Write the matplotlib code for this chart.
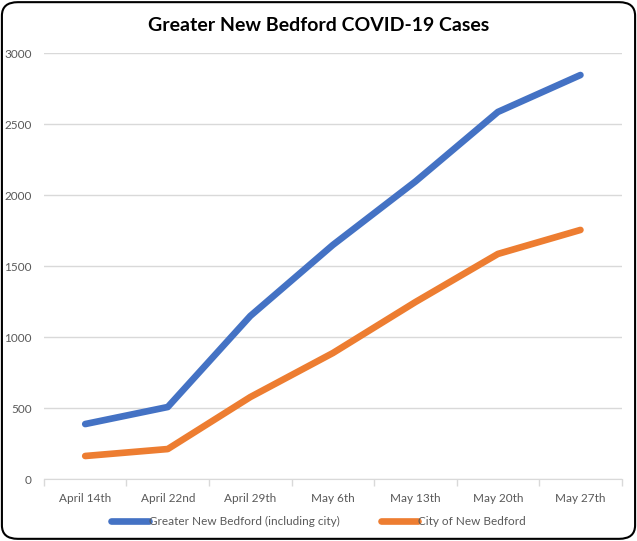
import matplotlib.pyplot as plt
from matplotlib.patches import FancyBboxPatch

# data
dates = ['April 14th', 'April 22nd', 'April 29th', 'May 6th', 'May 13th', 'May 20th', 'May 27th']
greater_nb = [387, 507, 1148, 1648, 2095, 2585, 2845]
city_nb = [162, 211, 577, 887, 1246, 1585, 1754]

plt.rcParams['font.family'] = ['Lato', 'DejaVu Sans']
grey = '#595959'
grid = '#D9D9D9'

fig = plt.figure(figsize=(6.37, 5.41), dpi=100)
ax = fig.add_axes([0.069, 0.1146, 0.907, 0.7874])

x = range(len(dates))
l1, = ax.plot(x, greater_nb, color='#4472C4', lw=4.8, solid_capstyle='round', solid_joinstyle='round',
              label='Greater New Bedford (including city)')
l2, = ax.plot(x, city_nb, color='#ED7D31', lw=4.8, solid_capstyle='round', solid_joinstyle='round',
              label='City of New Bedford')

ax.set_xlim(-0.5, len(dates) - 0.5)
ax.set_ylim(0, 3000)
ax.set_yticks(range(0, 3001, 500))
ax.yaxis.grid(True, color=grid, lw=1)
ax.set_axisbelow(True)
ax.tick_params(axis='y', length=0, labelsize=8.5, labelcolor=grey, pad=9)

ax.set_xticks(x)
ax.set_xticklabels(dates)
ax.set_xticks([i - 0.5 for i in range(len(dates) + 1)], minor=True)
ax.tick_params(axis='x', which='major', length=0, labelsize=8.5, labelcolor=grey, pad=10)
ax.tick_params(axis='x', which='minor', length=5, color=grid, width=1)

for s in ['top', 'right', 'left']:
    ax.spines[s].set_visible(False)
ax.spines['bottom'].set_color(grid)

fig.suptitle('Greater New Bedford COVID-19 Cases', y=0.968, fontsize=14, fontweight='bold')

fig.legend(handles=[l1, l2], loc='center', bbox_to_anchor=(0.5, 0.036), ncol=2, frameon=False,
           fontsize=8.5, labelcolor=grey, handlelength=3.2, handletextpad=0, columnspacing=3.5)

border = FancyBboxPatch((0.003, 0.004), 0.994, 0.992, boxstyle='round,pad=0,rounding_size=0.025',
                        transform=fig.transFigure, fill=False, ec='black', lw=1.5)
fig.patches.append(border)

fig.savefig('out.png', dpi=100)
